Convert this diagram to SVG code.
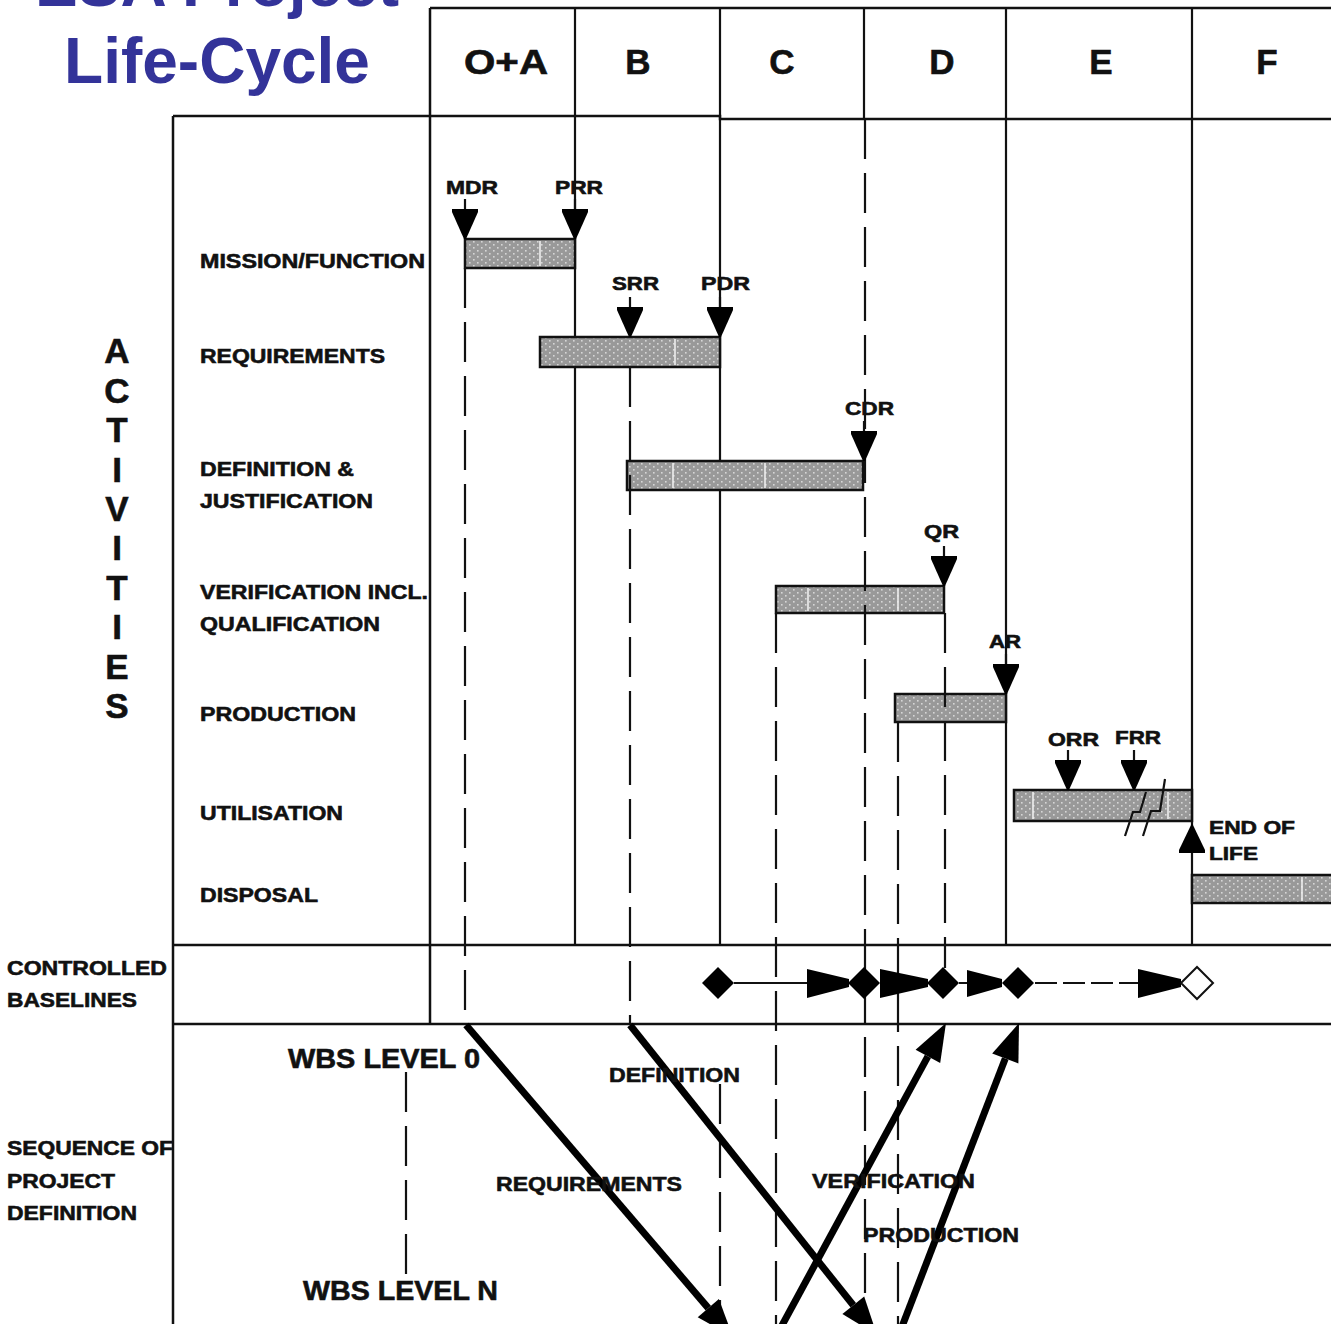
<svg xmlns="http://www.w3.org/2000/svg" width="1331" height="1324" viewBox="0 0 1331 1324">
  <style>
    .t { font-family: "Liberation Sans", Arial, sans-serif; font-weight: bold; fill: #111; stroke: #111; stroke-width: 0.6; }
    .title { font-size: 64px; fill: #333399; stroke: none; text-anchor: middle; }
    .hdr { font-size: 35px; text-anchor: middle; }
    .act { font-size: 35px; text-anchor: middle; }
    .row { font-size: 21px; }
    .ms { font-size: 19px; }
    .wbs { font-size: 28px; }
    .frame { stroke: #111; stroke-width: 2.5; fill: none; }
    .col { stroke: #111; stroke-width: 2.2; fill: none; }
    .dash { stroke: #111; stroke-width: 2.2; fill: none; stroke-dasharray: 40 14; }
    .bar { fill: url(#dots); stroke: #111; stroke-width: 2.5; }
    .sep { stroke: #eeeeee; stroke-width: 1.6; }
    .head { fill: #000; }
    .big { stroke: #000; stroke-width: 7; fill: none; }
  </style>
  <defs>
    <pattern id="dots" width="8" height="6" patternUnits="userSpaceOnUse">
      <rect width="8" height="6" fill="#999999"/>
      <rect x="1" y="1" width="1.6" height="1.6" fill="#d6d6d6"/>
      <rect x="5" y="4" width="1.6" height="1.6" fill="#d6d6d6"/>
    </pattern>
    <!-- milestone: stem plus downward head, tip at origin -->
    <g id="msDown">
      <line x1="0" y1="-40" x2="0" y2="-28" stroke="#111" stroke-width="2.2"/>
      <path d="M-13,-30 H13 V-27 L1,0 H-1 L-13,-27 Z" fill="#000"/>
    </g>
    <path id="dia" d="M-16,0 L0,-16 L16,0 L0,16 Z"/>
  </defs>

  <!-- title -->
  <g id="title">
    <text class="t title" x="217" y="6">ESA Project</text>
    <text class="t title" x="217" y="83">Life-Cycle</text>
  </g>

  <!-- table frame and phase columns -->
  <g id="frame">
    <path class="frame" d="M430,8 H1331 M173,116 H720 V119 H1331 M173,116 V1324 M173,945 H1331 M173,1024 H1331 M430,8 V1024"/>
    <path class="col" d="M575,8 V945 M720,8 V945 M864,8 V119 M1006,8 V945 M1192,8 V945"/>
  </g>

  <!-- phase headers -->
  <g id="phase-OA"><text class="t hdr" x="506" y="74" textLength="84" lengthAdjust="spacingAndGlyphs">O+A</text></g>
  <g id="phase-B"><text class="t hdr" x="638" y="74">B</text></g>
  <g id="phase-C"><text class="t hdr" x="782" y="74">C</text></g>
  <g id="phase-D"><text class="t hdr" x="942" y="74">D</text></g>
  <g id="phase-E"><text class="t hdr" x="1101" y="74">E</text></g>
  <g id="phase-F"><text class="t hdr" x="1267" y="74">F</text></g>

  <!-- vertical heading -->
  <g id="activities-label">
    <text class="t act" x="117" y="363">A</text>
    <text class="t act" x="117" y="403">C</text>
    <text class="t act" x="117" y="442">T</text>
    <text class="t act" x="117" y="482">I</text>
    <text class="t act" x="117" y="521">V</text>
    <text class="t act" x="117" y="560">I</text>
    <text class="t act" x="117" y="600">T</text>
    <text class="t act" x="117" y="639">I</text>
    <text class="t act" x="117" y="679">E</text>
    <text class="t act" x="117" y="718">S</text>
  </g>

  <!-- activity bars -->
  <g id="bar-mission">
    <rect class="bar" x="465" y="239" width="110" height="29"/>
    <line class="sep" x1="540" y1="241" x2="540" y2="266"/>
  </g>
  <g id="bar-requirements">
    <rect class="bar" x="540" y="337" width="180" height="30"/>
    <line class="sep" x1="675" y1="339" x2="675" y2="365"/>
  </g>
  <g id="bar-definition">
    <rect class="bar" x="627" y="461" width="236" height="29"/>
    <line class="sep" x1="673" y1="463" x2="673" y2="488"/>
    <line class="sep" x1="765" y1="463" x2="765" y2="488"/>
  </g>
  <g id="bar-verification">
    <rect class="bar" x="776" y="586" width="168" height="27"/>
    <line class="sep" x1="808" y1="588" x2="808" y2="611"/>
    <line class="sep" x1="898" y1="588" x2="898" y2="611"/>
  </g>
  <g id="bar-production">
    <rect class="bar" x="895" y="694" width="111" height="28"/>
  </g>
  <g id="bar-utilisation">
    <rect class="bar" x="1014" y="790" width="178" height="31"/>
    <line class="sep" x1="1033" y1="792" x2="1033" y2="819"/>
    <line class="sep" x1="1168" y1="792" x2="1168" y2="819"/>
    <path d="M1125,836 L1133,812 L1140,812 L1146,792 M1143,836 L1151,811 L1160,811 L1165,779" stroke="#111" stroke-width="2.2" fill="none"/>
  </g>
  <g id="bar-disposal">
    <rect class="bar" x="1192" y="875" width="145" height="28"/>
    <line class="sep" x1="1302" y1="877" x2="1302" y2="901"/>
  </g>

  <!-- review lines and sequence arrows -->
  <g id="connectors">
    <path class="dash" d="M465,268 V1024"/>
    <path class="dash" d="M630,367 V1024"/>
    <path class="dash" d="M865,119 V1324"/>
    <path class="dash" d="M776,613 V1324"/>
    <path class="dash" d="M898,722 V1324"/>
    <path class="dash" d="M945,613 V968"/>
    <path class="dash" d="M720,1084 V1324"/>
    <path class="dash" d="M406,1072 V1277"/>

    <line class="big" x1="466" y1="1025" x2="708.3" y2="1308.1"/>
    <polygon class="head" points="733,1337 718.9,1299 697.7,1317.2"/>
    <line class="big" x1="630" y1="1025" x2="853.3" y2="1305.3"/>
    <polygon class="head" points="877,1335 864.2,1296.6 842.4,1314"/>
    <line class="big" x1="779.5" y1="1330" x2="927.9" y2="1056.4"/>
    <polygon class="head" points="946,1023 940.2,1063.1 915.6,1049.7"/>
    <line class="big" x1="900.7" y1="1330" x2="1005.3" y2="1058.5"/>
    <polygon class="head" points="1019,1023 1018.4,1063.5 992.2,1053.5"/>
  </g>

  <!-- row labels -->
  <g id="row-labels">
    <text class="t row" x="200" y="268" textLength="225" lengthAdjust="spacingAndGlyphs">MISSION/FUNCTION</text>
    <text class="t row" x="200" y="363" textLength="185" lengthAdjust="spacingAndGlyphs">REQUIREMENTS</text>
    <text class="t row" x="200" y="476" textLength="154" lengthAdjust="spacingAndGlyphs">DEFINITION &amp;</text>
    <text class="t row" x="200" y="508" textLength="173" lengthAdjust="spacingAndGlyphs">JUSTIFICATION</text>
    <text class="t row" x="200" y="599" textLength="228" lengthAdjust="spacingAndGlyphs">VERIFICATION INCL.</text>
    <text class="t row" x="200" y="631" textLength="180" lengthAdjust="spacingAndGlyphs">QUALIFICATION</text>
    <text class="t row" x="200" y="721" textLength="156" lengthAdjust="spacingAndGlyphs">PRODUCTION</text>
    <text class="t row" x="200" y="820" textLength="143" lengthAdjust="spacingAndGlyphs">UTILISATION</text>
    <text class="t row" x="200" y="902" textLength="118" lengthAdjust="spacingAndGlyphs">DISPOSAL</text>
    <text class="t row" x="7" y="975" textLength="160" lengthAdjust="spacingAndGlyphs">CONTROLLED</text>
    <text class="t row" x="7" y="1007" textLength="130" lengthAdjust="spacingAndGlyphs">BASELINES</text>
    <text class="t row" x="7" y="1155" textLength="166" lengthAdjust="spacingAndGlyphs">SEQUENCE OF</text>
    <text class="t row" x="7" y="1188" textLength="108" lengthAdjust="spacingAndGlyphs">PROJECT</text>
    <text class="t row" x="7" y="1220" textLength="130" lengthAdjust="spacingAndGlyphs">DEFINITION</text>
  </g>

  <!-- milestone reviews -->
  <g id="milestones">
    <text class="t ms" x="446" y="194" textLength="52" lengthAdjust="spacingAndGlyphs">MDR</text>
    <use href="#msDown" x="465" y="239"/>
    <text class="t ms" x="555" y="194" textLength="48" lengthAdjust="spacingAndGlyphs">PRR</text>
    <use href="#msDown" x="575" y="239"/>
    <text class="t ms" x="612" y="290" textLength="47" lengthAdjust="spacingAndGlyphs">SRR</text>
    <use href="#msDown" x="630" y="337"/>
    <text class="t ms" x="701" y="290" textLength="49" lengthAdjust="spacingAndGlyphs">PDR</text>
    <use href="#msDown" x="720" y="337"/>
    <text class="t ms" x="845" y="415" textLength="49" lengthAdjust="spacingAndGlyphs">CDR</text>
    <use href="#msDown" x="864" y="461"/>
    <text class="t ms" x="924" y="538" textLength="35" lengthAdjust="spacingAndGlyphs">QR</text>
    <use href="#msDown" x="944" y="586"/>
    <text class="t ms" x="989" y="648" textLength="32" lengthAdjust="spacingAndGlyphs">AR</text>
    <use href="#msDown" x="1006" y="694"/>
    <text class="t ms" x="1048" y="746" textLength="51" lengthAdjust="spacingAndGlyphs">ORR</text>
    <use href="#msDown" x="1068" y="790"/>
    <text class="t ms" x="1115" y="744" textLength="46" lengthAdjust="spacingAndGlyphs">FRR</text>
    <use href="#msDown" x="1134" y="790"/>
    <path d="M1192,823 L1205,850 V853 H1179 V850 Z" fill="#000"/>
    <text class="t ms" x="1209" y="834" textLength="86" lengthAdjust="spacingAndGlyphs">END OF</text>
    <text class="t ms" x="1209" y="860" textLength="49" lengthAdjust="spacingAndGlyphs">LIFE</text>
  </g>

  <!-- controlled baselines chain -->
  <g id="baselines">
    <path d="M734,983 H807 M959,983 H967" stroke="#111" stroke-width="2"/>
    <path d="M1035,983 H1138" stroke="#111" stroke-width="2" stroke-dasharray="22 6"/>
    <use href="#dia" x="718" y="983" fill="#000"/>
    <polygon points="807,969 849,979 849,987 807,998"/>
    <use href="#dia" x="864" y="983" fill="#000"/>
    <polygon points="880,969 928,979 928,987 880,998"/>
    <use href="#dia" x="943" y="983" fill="#000"/>
    <polygon points="967,970 1002,979 1002,987 967,997"/>
    <use href="#dia" x="1018" y="983" fill="#000"/>
    <polygon points="1138,969 1181,979 1181,987 1138,998"/>
    <use href="#dia" x="1197" y="983" fill="#fff" stroke="#111" stroke-width="2"/>
  </g>

  <!-- work breakdown sequence labels -->
  <g id="sequence">
    <text class="t wbs" x="288" y="1068" textLength="192" lengthAdjust="spacingAndGlyphs">WBS LEVEL 0</text>
    <text class="t wbs" x="303" y="1300" textLength="195" lengthAdjust="spacingAndGlyphs">WBS LEVEL N</text>
    <text class="t row" x="609" y="1082" textLength="131" lengthAdjust="spacingAndGlyphs">DEFINITION</text>
    <text class="t row" x="496" y="1191" textLength="186" lengthAdjust="spacingAndGlyphs">REQUIREMENTS</text>
    <text class="t row" x="812" y="1188" textLength="163" lengthAdjust="spacingAndGlyphs">VERIFICATION</text>
    <text class="t row" x="863" y="1242" textLength="156" lengthAdjust="spacingAndGlyphs">PRODUCTION</text>
  </g>
</svg>
